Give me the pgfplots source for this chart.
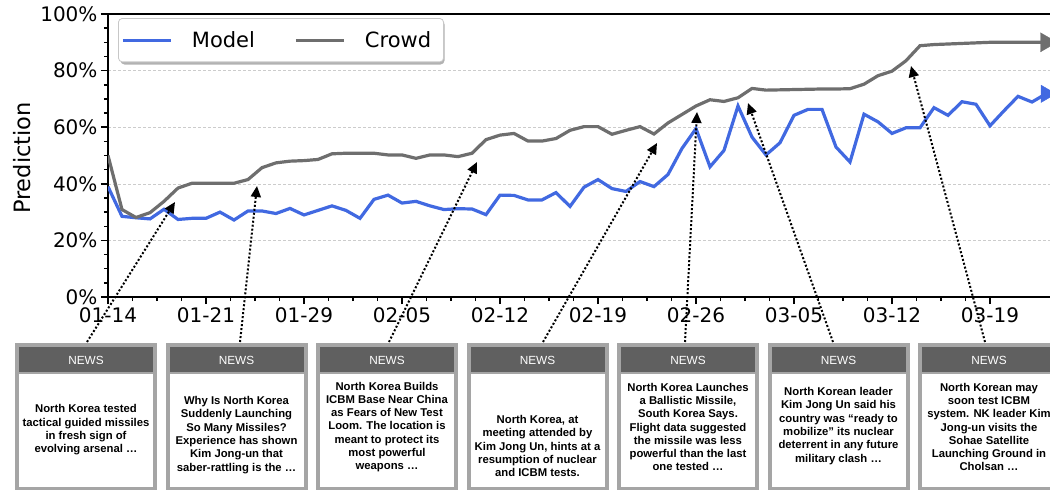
\documentclass[border=0pt]{standalone}
\usepackage{fontspec}
\setmainfont{DejaVu Sans}
\newfontfamily\newsfont{Liberation Sans}
\usepackage{pgfplots}
\usepackage{pgfplotstable}
\pgfplotsset{compat=1.18}
\usetikzlibrary{arrows.meta}

\definecolor{modelblue}{RGB}{65,105,225}
\definecolor{crowdgray}{RGB}{110,110,110}
\definecolor{newshead}{RGB}{96,96,96}
\definecolor{newsframe}{RGB}{165,165,165}

% day index, model prediction, crowd prediction (in %)
\pgfplotstableread{
i  model crowd
0  39.0  50.0
1  28.5  30.9
2  28.0  28.1
3  27.6  29.8
4  31.0  33.8
5  27.4  38.5
6  27.8  40.2
7  27.8  40.2
8  30.0  40.2
9  27.2  40.2
10 30.4  41.5
11 30.4  45.7
12 29.5  47.4
13 31.3  48.0
14 29.0  48.2
15 30.6  48.6
16 32.2  50.6
17 30.6  50.8
18 27.8  50.8
19 34.5  50.8
20 36.0  50.2
21 33.2  50.2
22 33.8  49.0
23 32.2  50.2
24 30.9  50.2
25 31.2  49.6
26 31.1  50.8
27 29.1  55.6
28 36.0  57.2
29 35.9  57.8
30 34.3  55.1
31 34.3  55.1
32 36.9  56.0
33 32.0  58.9
34 38.8  60.2
35 41.5  60.2
36 38.3  57.5
37 37.3  58.9
38 40.8  60.2
39 39.0  57.6
40 43.3  61.5
41 52.5  64.5
42 59.5  67.5
43 46.0  69.7
44 51.8  69.1
45 67.5  70.4
46 56.5  73.7
47 50.2  73.1
48 54.5  73.2
49 64.2  73.3
50 66.3  73.4
51 66.3  73.5
52 53.0  73.5
53 47.7  73.6
54 64.6  75.2
55 61.9  78.2
56 57.8  79.8
57 59.8  83.5
58 59.8  88.8
59 66.9  89.2
60 64.2  89.4
61 69.0  89.6
62 68.1  89.8
63 60.5  90.0
64 65.8  90.0
65 70.9  90.0
66 68.9  90.0
67 71.8  90.0
}\predtable

% news card: left x, text centre y, text (pixel coordinates, y downwards)
\newcommand{\newsbox}[3]{%
  \fill[newsframe] (#1,343) rectangle ++(142,150);
  \fill[newshead] (#1+4,347) rectangle ++(134,25);
  \fill[white] (#1+4,374) rectangle ++(134,113);
  \node[white, font=\newsfont\fontsize{11.8}{13}\selectfont] at (#1+71,360) {NEWS};
  \node[align=center, font=\newsfont\bfseries\fontsize{11.3}{13.3}\selectfont] at (#1+71,#2) {#3};
}

\begin{document}
\begin{tikzpicture}
\path[use as bounding box, clip] (0pt,-490pt) rectangle (1050pt,0pt);

% legend shadow
\fill[black!30, rounded corners=4pt] (120.5pt,-64.5pt) rectangle (444.5pt,-20.5pt);

\begin{axis}[
    at={(108pt,-297pt)}, anchor=south west,
    scale only axis, width=952pt, height=283pt,
    xmin=0, xmax=68, ymin=0, ymax=100,
    axis line style={line width=2.5pt},
    xtick={0,7,...,63},
    xticklabels={01-14,01-21,01-29,02-05,02-12,02-19,02-26,03-05,03-12,03-19},
    ytick={0,20,...,100},
    yticklabels={0\%,20\%,40\%,60\%,80\%,100\%},
    minor x tick num=3, minor y tick num=3,
    xtick pos=bottom, ytick pos=left,
    tick align=outside,
    major tick length=7pt, minor tick length=4pt,
    every tick/.style={black, line width=1.5pt},
    tick label style={font=\fontsize{20}{24}\selectfont},
    ymajorgrids,
    major grid style={gray!40, line width=0.6pt, dash pattern=on 3pt off 2pt},
    ylabel={Prediction},
    ylabel style={font=\fontsize{22.5}{27}\selectfont, at={(axis description cs:-0.0903,0.491)}, anchor=center},
    legend columns=2,
    legend image code/.code={\draw[#1, line width=3pt] (0pt,0pt) -- (48pt,0pt);},
    legend style={at={(0,1)}, anchor=north west, xshift=10pt, yshift=-4pt,
        draw=black!22, line width=0.8pt, rounded corners=4pt, fill=white,
        font=\fontsize{21}{25}\selectfont,
        inner xsep=3pt, inner ysep=4pt,
        nodes={inner xsep=9.5pt, inner ysep=9pt},
        /tikz/every odd column/.append style={column sep=10pt},
        /tikz/every even column/.append style={column sep=30pt}},
]
\addplot[modelblue, line width=3.2pt, mark=none] table[x=i, y=model] {\predtable};
\addlegendentry{Model}
\addplot[crowdgray, line width=3.2pt, mark=none] table[x=i, y=crowd] {\predtable};
\addlegendentry{Crowd}
% arrow-shaped marker on the last point of each series
\addplot[only marks, mark=triangle*, mark size=10pt, mark options={rotate=-90, fill=modelblue, draw=modelblue},
    restrict x to domain=66.5:68, forget plot]
    table[x=i, y=model] {\predtable};
\addplot[only marks, mark=triangle*, mark size=11pt, mark options={rotate=-90, fill=crowdgray, draw=crowdgray},
    restrict x to domain=66.5:68, forget plot]
    table[x=i, y=crowd] {\predtable};
\end{axis}

\begin{scope}[x=1pt, y=-1pt]
\newsbox{15}{430}{North Korea tested\\tactical guided missiles\\in fresh sign of\\evolving arsenal \dots}
\newsbox{165.5}{435}{Why Is North Korea\\Suddenly Launching\\So Many Missiles?\\Experience has shown\\Kim Jong-un that\\saber-rattling is the \dots}
\newsbox{316}{427}{North Korea Builds\\ICBM Base Near China\\as Fears of New Test\\Loom. The location is\\meant to protect its\\most powerful\\weapons \dots}
\newsbox{466.5}{446}{North Korea, at\\meeting attended by\\Kim Jong Un, hints at a\\resumption of nuclear\\and ICBM tests.}
\newsbox{617}{427}{North Korea Launches\\a Ballistic Missile,\\South Korea Says.\\Flight data suggested\\the missile was less\\powerful than the last\\one tested \dots}
\newsbox{767.5}{426}{North Korean leader\\Kim Jong Un said his\\country was “ready to\\mobilize” its nuclear\\deterrent in any future\\military clash \dots}
\newsbox{918}{427}{North Korean may\\soon test ICBM\\system. NK leader Kim\\Jong-un visits the\\Sohae Satellite\\Launching Ground in\\Cholsan \dots}

\tikzset{newsarrow/.style={black, line width=2pt, dash pattern=on 2pt off 2pt,
    -{Triangle[length=11pt, width=10pt]}}}
\draw[newsarrow] (87,342) -- (175,202);
\draw[newsarrow] (240,342) -- (257,186);
\draw[newsarrow] (389,342) -- (477,162);
\draw[newsarrow] (543,342) -- (657,143);
\draw[newsarrow] (685,342) -- (697,112);
\draw[newsarrow] (833,342) -- (748,103);
\draw[newsarrow] (985,342) -- (911,66);
\end{scope}
\end{tikzpicture}
\end{document}
